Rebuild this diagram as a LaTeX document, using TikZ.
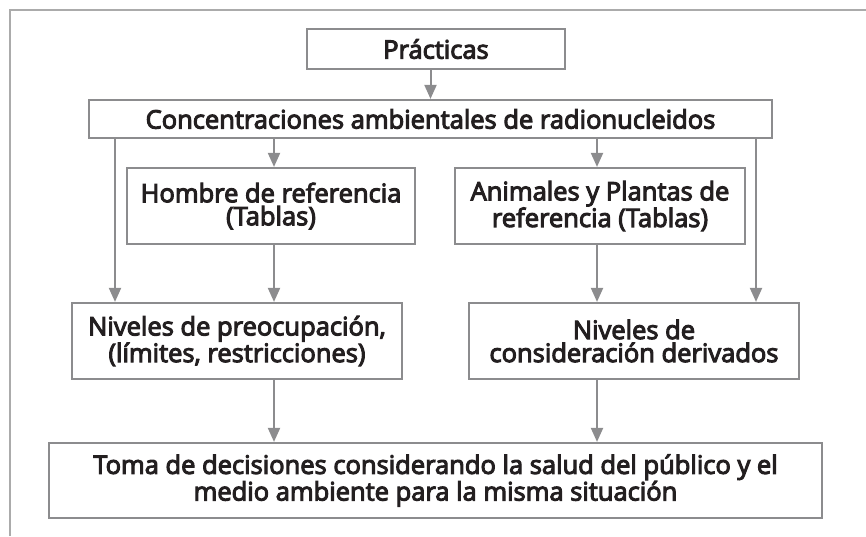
\documentclass[tikz,border=0pt]{standalone}
\usepackage{fontspec}
\setmainfont{Open Sans}[FakeBold=4]
\usetikzlibrary{arrows.meta}
\definecolor{boxgray}{HTML}{8C8C8E}
\definecolor{framegray}{HTML}{ABABAB}
\definecolor{textdark}{HTML}{231F20}
\tikzset{
  caja/.style={draw=boxgray, line width=2.2pt, fill=white, align=center,
    inner sep=0pt, text=textdark, font=\fontsize{25.5}{23}\selectfont},
  flecha/.style={draw=boxgray, line width=2pt, -{Triangle[width=12pt,length=14pt]}}
}
\begin{document}
\begin{tikzpicture}[x=1pt, y=-1pt]
        \useasboundingbox (0,0) rectangle (866,536);
        \draw [framegray, line width=1.3pt] (10,536) -- (10,10) -- (866,10);

        \node [caja, minimum width=258pt, minimum height=40pt] (prac) at (436, 49) {Prácticas};
        \node [caja, minimum width=683pt, minimum height=38pt] (conc) at (430.5, 119) {Concentraciones ambientales de radionucleidos};
        \node [caja, minimum width=288pt, minimum height=76pt] (hombre) at (271, 206) {Hombre de referencia\\(Tablas)};
        \node [caja, minimum width=290pt, minimum height=76pt] (anim) at (600, 206) {Animales y Plantas de\\referencia (Tablas)};
        \node [caja, minimum width=330pt, minimum height=76pt] (nivpre) at (237, 341) {Niveles de preocupación,\\(límites, restricciones)};
        \node [caja, minimum width=330pt, minimum height=76pt] (nivcons) at (634, 341) {Niveles de\\consideración derivados};
        \node [caja, minimum width=773pt, minimum height=75pt] (toma) at (435.5, 480.5) {Toma de decisiones considerando la salud del público y el\\medio ambiente para la misma situación};

        \coordinate (xl) at (115, 0);
        \coordinate (xh) at (274, 0);
        \coordinate (xa) at (597, 0);
        \coordinate (xr) at (756, 0);

        \draw [flecha] (prac.south -| conc.north) -- (conc.north);
        \draw [flecha] (conc.south -| xl) -- (nivpre.north -| xl);
        \draw [flecha] (conc.south -| xh) -- (hombre.north -| xh);
        \draw [flecha] (conc.south -| xa) -- (anim.north -| xa);
        \draw [flecha] (conc.south -| xr) -- (nivcons.north -| xr);
        \draw [flecha] (hombre.south -| xh) -- (nivpre.north -| xh);
        \draw [flecha] (anim.south -| xa) -- (nivcons.north -| xa);
        \draw [flecha] (nivpre.south -| xh) -- (toma.north -| xh);
        \draw [flecha] (nivcons.south -| xa) -- (toma.north -| xa);
\end{tikzpicture}
\end{document}
